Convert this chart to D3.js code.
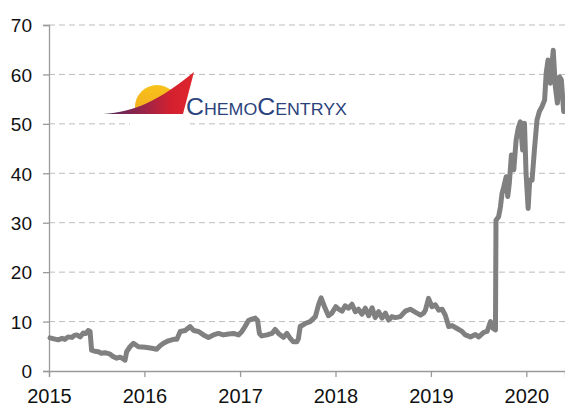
<!DOCTYPE html>
<html>
<head>
<meta charset="utf-8">
<script src="https://cdn.jsdelivr.net/npm/d3@7"></script>
<style>
  html, body { margin: 0; padding: 0; background: #fff; }
  svg { display: block; }
  .tick-label { font-family: "Liberation Sans Narrow", "Arial Narrow", "Liberation Sans", Arial, sans-serif; fill: #111; }
</style>
</head>
<body>
<svg id="chart" width="565" height="407"></svg>
<script>
// Daily-close samples of the share price (USD)
const dates = [
  "2015-01-05","2015-01-20","2015-02-05","2015-02-20","2015-03-03","2015-03-15","2015-03-29","2015-04-08",
  "2015-04-17","2015-04-30","2015-05-12","2015-05-22","2015-05-31","2015-06-07","2015-06-13","2015-06-25",
  "2015-07-09","2015-07-20","2015-08-03","2015-08-23","2015-09-04","2015-09-17","2015-09-30","2015-10-10",
  "2015-10-19","2015-10-25","2015-11-07","2015-11-20","2015-12-09","2016-01-04","2016-01-29","2016-02-17",
  "2016-03-01","2016-03-14","2016-04-02","2016-04-21","2016-05-04","2016-05-17","2016-06-05","2016-06-24",
  "2016-07-07","2016-07-26","2016-08-14","2016-09-02","2016-09-21","2016-10-10","2016-10-29","2016-11-18",
  "2016-12-07","2016-12-26","2017-01-08","2017-01-20","2017-02-02","2017-02-15","2017-02-28","2017-03-09",
  "2017-03-16","2017-03-25","2017-04-14","2017-05-03","2017-05-15","2017-05-28","2017-06-16","2017-06-29",
  "2017-07-12","2017-07-24","2017-08-06","2017-08-12","2017-08-19","2017-09-07","2017-09-26","2017-10-16",
  "2017-10-28","2017-11-07","2017-11-20","2017-12-05","2017-12-18","2018-01-02","2018-01-13","2018-01-26",
  "2018-02-07","2018-02-20","2018-03-05","2018-03-18","2018-03-30","2018-04-12","2018-04-25","2018-05-08",
  "2018-05-21","2018-06-02","2018-06-15","2018-06-28","2018-07-11","2018-07-23","2018-08-05","2018-08-18",
  "2018-09-06","2018-09-25","2018-10-14","2018-11-02","2018-11-22","2018-12-04","2018-12-11","2018-12-23",
  "2019-01-05","2019-01-18","2019-01-31","2019-02-13","2019-02-25","2019-03-10","2019-03-23","2019-04-11",
  "2019-04-30","2019-05-13","2019-06-01","2019-06-20","2019-07-03","2019-07-22","2019-08-04","2019-08-17",
  "2019-08-27","2019-09-05","2019-09-07","2019-09-17","2019-09-24","2019-09-30","2019-10-07","2019-10-16",
  "2019-10-22","2019-10-28","2019-11-05","2019-11-14","2019-11-23","2019-12-01","2019-12-09","2019-12-18",
  "2019-12-25","2019-12-31","2020-01-08","2020-01-14","2020-01-23","2020-02-02","2020-02-11","2020-02-20",
  "2020-03-01","2020-03-11","2020-03-17","2020-03-24","2020-04-02","2020-04-13","2020-04-21","2020-04-29",
  "2020-05-07","2020-05-14","2020-05-23"
];
const prices = [
  6.7, 6.5, 6.3, 6.6, 6.4, 6.9, 6.8, 7.2,
  7.3, 6.9, 7.7, 7.6, 8.2, 8.0, 4.2, 4.0,
  3.9, 3.6, 3.7, 3.4, 2.9, 2.6, 2.8, 2.5,
  2.2, 3.9, 4.9, 5.6, 4.9, 4.8, 4.6, 4.4,
  5.1, 5.6, 6.1, 6.4, 6.4, 8.0, 8.2, 9.0,
  8.2, 8.0, 7.3, 6.8, 7.3, 7.6, 7.3, 7.5,
  7.6, 7.3, 8.0, 9.0, 10.2, 10.5, 10.7, 10.2,
  7.6, 7.1, 7.3, 7.6, 8.4, 7.6, 6.8, 7.6,
  6.6, 5.9, 5.9, 6.5, 9.0, 9.6, 10.0, 11.0,
  13.4, 14.8, 13.0, 11.2, 11.7, 13.0, 12.5, 12.1,
  13.2, 12.7, 13.5, 12.0, 12.5, 11.5, 12.7, 11.2,
  12.8, 10.8, 12.0, 10.7, 11.7, 10.3, 11.0, 10.8,
  11.0, 12.1, 12.5, 11.9, 11.3, 11.7, 12.3, 14.7,
  13.0, 13.4, 12.3, 12.5, 11.3, 9.0, 9.2, 8.6,
  8.0, 7.3, 6.9, 7.4, 6.9, 7.8, 8.0, 10.0,
  8.6, 8.3, 30.5, 31.2, 33.2, 35.9, 37.3, 39.3,
  35.3, 38.0, 43.7, 40.7, 46.7, 49.1, 50.4, 44.7,
  50.1, 40.0, 32.9, 38.6, 38.6, 45.4, 50.8, 52.5,
  53.5, 54.8, 60.2, 62.9, 58.2, 64.9, 57.5, 54.2,
  59.5, 58.9, 52.5
];
const yTicks = [0, 10, 20, 30, 40, 50, 60, 70];
const yearTicks = ["2015", "2016", "2017", "2018", "2019", "2020"];
const xStart = "2015-01-01";
const xEnd = "2020-05-28";

const parse = d3.timeParse("%Y-%m-%d");
const series = dates.map((d, i) => ({ date: parse(d), value: prices[i] }));

const svg = d3.select("#chart");
const plot = { left: 49, right: 565, top: 25, bottom: 371 };

const x = d3.scaleTime().domain([parse(xStart), parse(xEnd)]).range([plot.left, plot.right]);
const y = d3.scaleLinear().domain([0, 70]).range([plot.bottom, plot.top]);

// dashed horizontal gridlines
svg.append("g")
  .selectAll("line")
  .data(yTicks.filter(v => v > 0))
  .join("line")
  .attr("x1", plot.left).attr("x2", plot.right)
  .attr("y1", d => y(d)).attr("y2", d => y(d))
  .attr("stroke", "#bdbdbd")
  .attr("stroke-width", 1)
  .attr("stroke-dasharray", "6,4");

// y axis
const yAxis = svg.append("g")
  .attr("transform", `translate(${plot.left},0)`)
  .call(d3.axisLeft(y).tickValues(yTicks).tickSize(6).tickPadding(11));
yAxis.select(".domain").attr("stroke", "#9a9a9a").attr("stroke-width", 1.3);
yAxis.selectAll(".tick line").attr("stroke", "#9a9a9a").attr("stroke-width", 1.3);
yAxis.selectAll(".tick text").attr("class", "tick-label").attr("font-size", 19).attr("dy", "0.36em");

// x axis
const xAxis = svg.append("g")
  .attr("transform", `translate(0,${plot.bottom})`)
  .call(d3.axisBottom(x).tickValues(yearTicks.map(t => parse(t + "-01-01")))
    .tickFormat(d3.timeFormat("%Y")).tickSize(6).tickPadding(12));
xAxis.select(".domain").attr("stroke", "#9a9a9a").attr("stroke-width", 1.3);
xAxis.selectAll(".tick line").attr("stroke", "#9a9a9a").attr("stroke-width", 1.3);
xAxis.selectAll(".tick text").attr("class", "tick-label").attr("font-size", 20);

// price line
const line = d3.line().x(d => x(d.date)).y(d => y(d.value));
svg.append("path")
  .datum(series)
  .attr("d", line)
  .attr("fill", "none")
  .attr("stroke", "#808080")
  .attr("stroke-width", 5)
  .attr("stroke-linejoin", "round")
  .attr("stroke-linecap", "round");

// company logo
const defs = svg.append("defs");
const sg = defs.append("linearGradient").attr("id", "swoosh").attr("x1", "0").attr("x2", "1").attr("y1", "0").attr("y2", "0");
sg.append("stop").attr("offset", "0%").attr("stop-color", "#4a2a63");
sg.append("stop").attr("offset", "45%").attr("stop-color", "#9a2448");
sg.append("stop").attr("offset", "75%").attr("stop-color", "#d4202f");
sg.append("stop").attr("offset", "100%").attr("stop-color", "#e0262c");
const sun = defs.append("linearGradient").attr("id", "sun").attr("x1", "0").attr("x2", "0").attr("y1", "0").attr("y2", "1");
sun.append("stop").attr("offset", "0%").attr("stop-color", "#f7c21a");
sun.append("stop").attr("offset", "100%").attr("stop-color", "#f0a020");

const logo = svg.append("g");
logo.append("circle")
  .attr("cx", 157).attr("cy", 107).attr("r", 22)
  .attr("fill", "url(#sun)");
// white mask below the horizon line
logo.append("rect").attr("x", 130).attr("y", 114).attr("width", 60).attr("height", 20).attr("fill", "#fff");
logo.append("path")
  .attr("d", "M103,114 C135,112 160,100 194,72 L183,114 Z")
  .attr("fill", "url(#swoosh)");

const brand = logo.append("text")
  .attr("x", 186).attr("y", 115)
  .attr("fill", "#2b437c")
  .attr("font-family", "'Liberation Sans', Arial, sans-serif")
  .attr("textLength", 161)
  .attr("lengthAdjust", "spacingAndGlyphs");
[["C", 23], ["HEMO", 16.5], ["C", 23], ["ENTRYX", 16.5]].forEach(([t, s]) => {
  brand.append("tspan").attr("font-size", s).text(t);
});
</script>
</body>
</html>
